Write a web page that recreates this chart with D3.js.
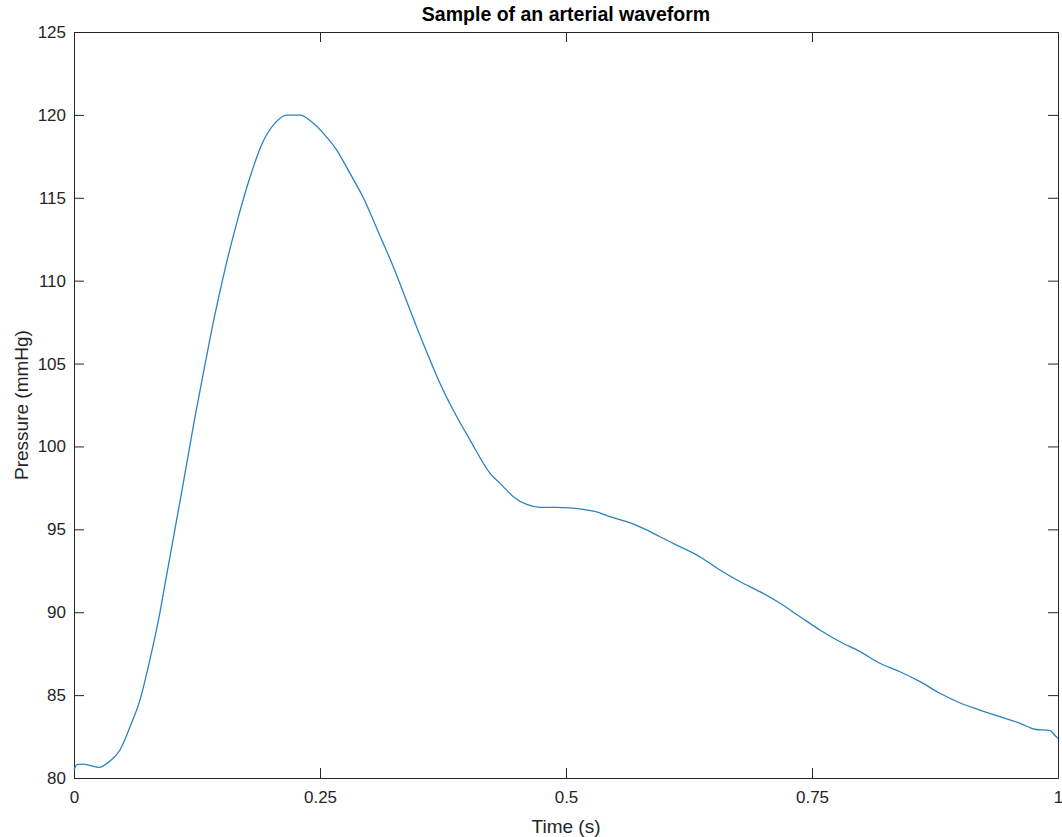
<!DOCTYPE html>
<html>
<head>
<meta charset="utf-8">
<script src="https://cdn.jsdelivr.net/npm/d3@7"></script>
<style>
  body { margin: 0; background: #fff; }
  svg { display: block; font-family: "Liberation Sans", Arial, Helvetica, sans-serif; }
</style>
</head>
<body>
<div id="chart"></div>
<script>
// waveform samples
var timeS = [0, 0.003, 0.0095, 0.025, 0.0366, 0.0467, 0.057, 0.067, 0.077, 0.0874,
  0.0925, 0.111, 0.123, 0.133, 0.143, 0.1535, 0.165, 0.179, 0.192, 0.204,
  0.216, 0.2297, 0.2415, 0.255, 0.267, 0.2805, 0.294, 0.311, 0.3245, 0.3415,
  0.355, 0.372, 0.389, 0.4024, 0.4228, 0.433, 0.4465, 0.46, 0.4736, 0.4905,
  0.504, 0.5176, 0.531, 0.5447, 0.5617, 0.5786, 0.5955, 0.6125, 0.636, 0.6565,
  0.677, 0.697, 0.7175, 0.7378, 0.758, 0.7785, 0.7988, 0.819, 0.8394, 0.8598,
  0.88, 0.9, 0.9207, 0.941, 0.9614, 0.9766, 0.9919, 0.998, 1];
var pressure = [80.5, 80.8, 80.84, 80.64, 81.02, 81.69, 83.1, 84.7, 87.1, 90.0,
  91.7, 97.77, 101.8, 104.9, 107.9, 110.7, 113.4, 116.27, 118.38, 119.49,
  119.99, 119.99, 119.58, 118.78, 117.88, 116.47, 115.0, 112.7, 110.84, 108.23,
  106.2, 103.8, 101.79, 100.4, 98.38, 97.77, 96.97, 96.5, 96.33, 96.33,
  96.3, 96.2, 96.06, 95.76, 95.46, 95.06, 94.55, 94.05, 93.35, 92.55,
  91.84, 91.24, 90.54, 89.73, 88.93, 88.22, 87.62, 86.92, 86.41, 85.81,
  85.11, 84.54, 84.1, 83.7, 83.3, 82.94, 82.86, 82.5, 82.4];

var xTicks = [0, 0.25, 0.5, 0.75, 1];
var xTickLabels = ["0", "0.25", "0.5", "0.75", "1"];
var yTicks = [80, 85, 90, 95, 100, 105, 110, 115, 120, 125];

var titleText = "Sample of an arterial waveform";
var xLabelText = "Time (s)";
var yLabelText = "Pressure (mmHg)";

var W = 1062, H = 837;
var margin = {top: 32, right: 4, bottom: 59, left: 74};
var width = W - margin.left - margin.right,
    height = H - margin.top - margin.bottom;
var axisColour = "#262626";
var lineColour = "#2a82c2";

var svg = d3.select("#chart")
    .append("svg")
    .attr("width", W)
    .attr("height", H);

var g = svg.append("g")
    .attr("transform", "translate(" + margin.left + "," + margin.top + ")");

var x = d3.scaleLinear().domain([0, 1]).range([0, width]);
var y = d3.scaleLinear().domain([80, 125]).range([height, 0]);

var data = timeS.map(function(t, i){ return {t: t, p: pressure[i]}; });

// axes, ticks point inward like matlab
function styleAxis(sel){
    sel.selectAll("path").attr("stroke", axisColour).attr("stroke-width", 1);
    sel.selectAll("line").attr("stroke", axisColour).attr("stroke-width", 1);
    sel.selectAll("text").attr("fill", axisColour).attr("font-size", "17px");
}

g.append("g")
    .attr("transform", "translate(0," + height + ")")
    .call(d3.axisBottom(x).tickValues(xTicks)
        .tickFormat(function(d, i){ return xTickLabels[i]; })
        .tickSizeInner(-10).tickSizeOuter(0).tickPadding(13))
    .call(styleAxis);

g.append("g")
    .call(d3.axisTop(x).tickValues(xTicks).tickFormat("")
        .tickSizeInner(-10).tickSizeOuter(0))
    .call(styleAxis);

g.append("g")
    .call(d3.axisLeft(y).tickValues(yTicks)
        .tickSizeInner(-10).tickSizeOuter(0).tickPadding(8))
    .call(styleAxis);

g.append("g")
    .attr("transform", "translate(" + width + ",0)")
    .call(d3.axisRight(y).tickValues(yTicks).tickFormat("")
        .tickSizeInner(-10).tickSizeOuter(0))
    .call(styleAxis);

var line = d3.line()
    .x(function(d){ return x(d.t); })
    .y(function(d){ return y(d.p); })
    .curve(d3.curveMonotoneX);

g.append("path")
    .datum(data)
    .attr("fill", "none")
    .attr("stroke", lineColour)
    .attr("stroke-width", 1.3)
    .attr("stroke-linejoin", "round")
    .attr("d", line);

g.append("text")
    .attr("x", width / 2)
    .attr("y", -11)
    .attr("text-anchor", "middle")
    .attr("font-size", "19.5px")
    .attr("font-weight", "bold")
    .attr("fill", "#000")
    .text(titleText);

g.append("text")
    .attr("x", width / 2)
    .attr("y", height + 55)
    .attr("text-anchor", "middle")
    .attr("font-size", "19px")
    .attr("fill", axisColour)
    .text(xLabelText);

g.append("text")
    .attr("transform", "translate(" + (-46) + "," + (height / 2) + ") rotate(-90)")
    .attr("text-anchor", "middle")
    .attr("font-size", "19px")
    .attr("fill", axisColour)
    .text(yLabelText);
</script>
</body>
</html>
